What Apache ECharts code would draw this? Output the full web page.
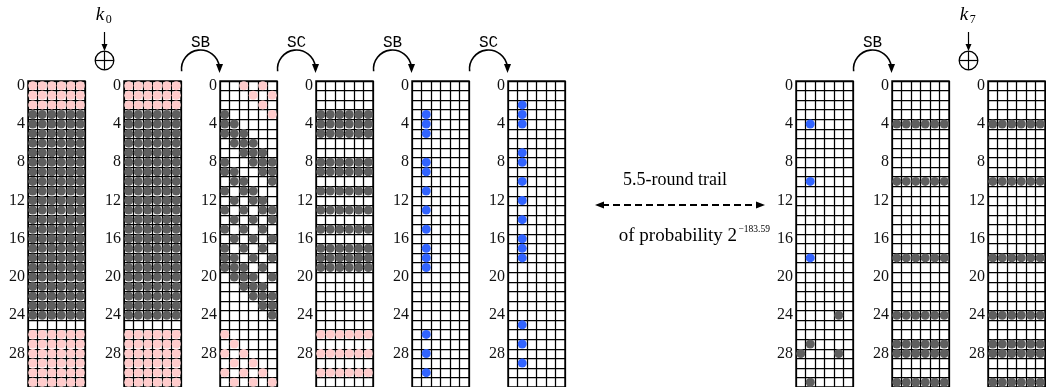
<!DOCTYPE html>
<html>
<head>
<meta charset="utf-8">
<script src="https://cdn.jsdelivr.net/npm/echarts@6/dist/echarts.min.js"></script>
<style>
  html, body { margin: 0; padding: 0; background: #fff; }
  #chart { width: 1046px; height: 387px; }
</style>
</head>
<body>
<div id="chart"></div>
<script>
// rows of the state (32) and the 6 columns
const rowCats = ['0','1','2','3','4','5','6','7','8','9','10','11','12','13','14','15',
                 '16','17','18','19','20','21','22','23','24','25','26','27','28','29','30','31'];
const colCats = ['0','1','2','3','4','5'];
const allCols = [0, 1, 2, 3, 4, 5];

// state 1 and 2 (before / after k0): full rows
const s1PinkRows = [0, 1, 2, 26, 27, 28, 29, 30, 31];
const s1GreyRows = [3, 4, 5, 6, 7, 8, 9, 10, 11, 12, 13, 14, 15, 16, 17, 18, 19, 20, 21, 22, 23, 24];

// state 3 (after SB): [row, cols]
const s3Grey = [
  [3, [0]], [4, [0, 1]], [5, [0, 1, 2]], [6, [1, 2, 3]], [7, [2, 3, 4]],
  [8, [0, 3, 4, 5]], [9, [0, 1, 4, 5]], [10, [1, 2, 5]], [11, [0, 2, 3]],
  [12, [1, 3, 4]], [13, [0, 2, 4, 5]], [14, [1, 3, 5]], [15, [0, 2, 4]],
  [16, [1, 3, 5]], [17, [0, 2, 4]], [18, [0, 1, 3, 5]], [19, [0, 1, 2, 4]],
  [20, [1, 2, 3, 5]], [21, [2, 3, 4]], [22, [3, 4, 5]], [23, [4, 5]], [24, [5]]
];
const s3Pink = [
  [0, [2, 4]], [1, [3, 5]], [2, [4]], [3, [5]],
  [26, [0]], [27, [1]], [28, [0, 2]], [29, [1, 3]], [30, [0, 2, 4]], [31, [1, 3, 5]]
];

// state 4 (after SC): full rows
const s4GreyRows = [3, 4, 5, 8, 9, 11, 13, 15, 17, 18, 19];
const s4PinkRows = [26, 28, 30];

// state 5 / 6: blue cells in column 1
const s5BlueRows = [3, 4, 5, 8, 9, 11, 13, 15, 17, 18, 19, 26, 28, 30];
const s6BlueRows = [2, 3, 4, 7, 8, 10, 12, 14, 16, 17, 18, 25, 27, 29];

// state 7
const s7BlueRows = [4, 10, 18];
const s7Grey = [[24, [4]], [27, [1]], [28, [0, 4]], [31, [1]]];

// state 8 / 9 (after SB, after k7): full rows
const s8GreyRows = [4, 10, 18, 24, 27, 28, 31];
const s9GreyRows = [4, 10, 18, 24, 27, 28, 31];

const GREY = '#5f5f5f', PINK = '#ffcccc', BLUE = '#3264ff';

const full = rows => rows.map(r => [r, allCols]);
const inCol = (rows, c) => rows.map(r => [r, [c]]);

const states = [
  { grey: full(s1GreyRows), pink: full(s1PinkRows) },
  { grey: full(s1GreyRows), pink: full(s1PinkRows) },
  { grey: s3Grey, pink: s3Pink },
  { grey: full(s4GreyRows), pink: full(s4PinkRows) },
  { blue: inCol(s5BlueRows, 1) },
  { blue: inCol(s6BlueRows, 1) },
  { grey: s7Grey, blue: inCol(s7BlueRows, 1) },
  { grey: full(s8GreyRows) },
  { grey: full(s9GreyRows) }
];

const gridLeft = [28, 124, 220, 316, 412, 508, 796, 892, 988];
const GW = 57, GTOP = 81, GH = 307.2;

const toPoints = list => {
  const pts = [];
  list.forEach(([r, cs]) => cs.forEach(c => pts.push([c, r])));
  return pts;
};

const grid = [], xAxis = [], yAxis = [], series = [];
states.forEach((st, i) => {
  grid.push({ left: gridLeft[i], top: GTOP, width: GW, height: GH, show: true,
              borderColor: '#000', borderWidth: 1.4, backgroundColor: 'transparent' });
  xAxis.push({ type: 'category', gridIndex: i, data: colCats,
               axisLine: { show: false }, axisTick: { show: false }, axisLabel: { show: false },
               splitLine: { show: true, interval: 0, lineStyle: { color: '#000', width: 1.25 } } });
  yAxis.push({ type: 'category', gridIndex: i, data: rowCats, inverse: true,
               axisLine: { show: false }, axisTick: { show: false },
               axisLabel: { interval: 3, margin: 3, color: '#111',
                            fontFamily: 'Liberation Serif', fontSize: 16 },
               splitLine: { show: true, interval: 0, lineStyle: { color: '#000', width: 1.25 } } });
  [['grey', GREY], ['pink', PINK], ['blue', BLUE]].forEach(([k, col]) => {
    if (!st[k]) return;
    series.push({ type: 'scatter', xAxisIndex: i, yAxisIndex: i, clip: false,
                  symbolSize: 9, itemStyle: { color: col, opacity: 1 },
                  silent: true, data: toPoints(st[k]) });
  });
});

// decorations: SB / SC arcs, key additions, trail arrow
const elements = [];
const txt = (x, y, text, font, align) => ({
  type: 'text', x, y,
  style: { text, font, fill: '#000', align: align || 'center', verticalAlign: 'middle',
           textAlign: align || 'center', textVerticalAlign: 'middle' }
});
// [index of the grid on the right of the step, name]
const steps = [[2, 'SB'], [3, 'SC'], [4, 'SB'], [5, 'SC'], [7, 'SB']];
steps.forEach(([g, name]) => {
  const x0 = gridLeft[g - 1] + GW, x1 = gridLeft[g];
  const cx = (x0 + x1) / 2, r = (x1 - x0) / 2 - 0.5, cy = 69;
  elements.push({ type: 'arc', shape: { cx, cy, r, startAngle: Math.PI - 0.12, endAngle: 2 * Math.PI },
                  style: { stroke: '#000', lineWidth: 1.6, fill: 'none' } });
  elements.push({ type: 'polygon', shape: { points: [[cx + r - 3.5, 64], [cx + r + 3.5, 64], [cx + r, 73]] },
                  style: { fill: '#000' } });
  elements.push(txt(cx, 43, name, '16px "Liberation Mono"'));
});
[[1, '0'], [8, '7']].forEach(([g, sub]) => {
  const x0 = gridLeft[g - 1] + GW, x1 = gridLeft[g];
  const cx = (x0 + x1) / 2, cy = 60.5, r = 9.3;
  elements.push({ type: 'circle', shape: { cx, cy, r }, style: { stroke: '#000', lineWidth: 1.3, fill: 'none' } });
  elements.push({ type: 'line', shape: { x1: cx - r, y1: cy, x2: cx + r, y2: cy }, style: { stroke: '#000', lineWidth: 1.2 } });
  elements.push({ type: 'line', shape: { x1: cx, y1: cy - r, x2: cx, y2: cy + r }, style: { stroke: '#000', lineWidth: 1.2 } });
  elements.push({ type: 'line', shape: { x1: cx, y1: 32, x2: cx, y2: 46 }, style: { stroke: '#000', lineWidth: 1.2 } });
  elements.push({ type: 'polygon', shape: { points: [[cx - 3, 44], [cx + 3, 44], [cx, 51]] }, style: { fill: '#000' } });
  elements.push(txt(cx - 4.5, 15, 'k', 'italic 19px "Liberation Serif"'));
  elements.push(txt(cx + 4.2, 20, sub, '12px "Liberation Serif"'));
});
// 5.5-round trail arrow
elements.push({ type: 'line', shape: { x1: 602, y1: 205, x2: 758, y2: 205 },
                style: { stroke: '#000', lineWidth: 2, lineDash: [7, 4] } });
elements.push({ type: 'polygon', shape: { points: [[595, 205], [604, 201.5], [604, 208.5]] }, style: { fill: '#000' } });
elements.push({ type: 'polygon', shape: { points: [[765, 205], [756, 201.5], [756, 208.5]] }, style: { fill: '#000' } });
elements.push(txt(675, 180, '5.5-round trail', '18px "Liberation Serif"'));
elements.push(txt(737, 236, 'of probability 2', '19px "Liberation Serif"', 'right'));
elements.push(txt(738.5, 229, '\u2212183.59', '9.5px "Liberation Serif"', 'left'));

const chart = echarts.init(document.getElementById('chart'), null, { renderer: 'canvas' });
chart.setOption({
  animation: false,
  backgroundColor: '#fff',
  grid, xAxis, yAxis, series,
  graphic: { elements }
});
</script>
</body>
</html>
